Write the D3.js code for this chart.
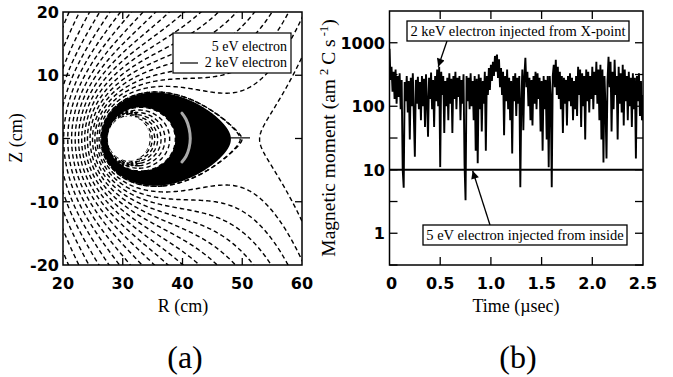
<!DOCTYPE html>
<html><head><meta charset="utf-8">
<script src="https://cdn.jsdelivr.net/npm/d3@7"></script>
<style>
body{margin:0;background:#fff}
.tick{font-family:'DejaVu Sans',sans-serif;font-size:16px;font-weight:bold;fill:#000}
.serif{font-family:'Liberation Serif','Times New Roman',serif;fill:#000}
</style></head><body>
<svg id="c" width="673" height="377" xmlns="http://www.w3.org/2000/svg"></svg>
<script>
// ---------------- DATA ----------------
// Panel (a): axes
const rTickVals = [20, 30, 40, 50, 60];
const zTickVals = [-20, -10, 0, 10, 20];
// ring conductor (R, Z centre, visible radius), cm
const coilR = [31.0];
const coilZ = [0.0];
const coilHoleRadius = [3.5];
// X-point position on the midplane, cm
const xPointR = [50.5];
// 2 keV orbit region: outer and inner edges on the midplane (cm)
const orbitOuterR = [48.0];
const orbitInnerR = [38.7];
// field-line spacing: midplane R positions of two neighbouring surfaces inside
const surfaceRefR = [35.0, 35.45];
// open field line outside the X-point (midplane crossing, cm)
const outerLineR = [52.8];
// 5 eV electron trajectory (grey arc)
const eV5R = [39.9, 40.6, 41.1, 41.3, 41.1, 40.6, 39.9];
const eV5Z = [4.0, 3.0, 1.6, 0.0, -1.5, -2.8, -3.7];
// 2 keV electron injection segment near X-point
const keV2R = [48.0, 51.3];
const keV2Z = [0.1, 0.1];
const legendA = ["5 eV electron", "2 keV electron"];

// Panel (b)
const tTickVals = [0, 0.5, 1.0, 1.5, 2.0, 2.5];
const tTickLabels = ["0", "0.5", "1.0", "1.5", "2.0", "2.5"];
const muTickVals = [1, 10, 100, 1000];
const muTickLabels = ["1", "10", "100", "1000"];
const muMinorVals = [0.316, 3.16, 31.6, 316];
const sampleStep = 0.01; // µs between samples of the 2 keV trace
const mu2keV = [
 800,260,420,170,350,130,380,110,300,140,
 330,90,260,10,5.2,240,120,300,80,250,
 30,280,100,330,70,16,260,110,290,90,
 240,60,300,100,270,47,320,120,33,280,
 130,340,90,260,47,300,120,380,100,420,
 11,350,150,300,38,250,100,280,60,330,
 110,270,38,300,130,350,90,280,140,300,
 60,260,110,320,12,3.3,300,120,280,90,
 330,100,250,60,300,20,270,12.7,320,90,
 280,40,250,110,350,20,300,150,400,180,
 450,250,500,300,620,350,650,280,550,200,
 400,150,350,35,300,120,380,90,280,60,
 250,18,300,120,330,70,280,110,300,5.3,
 120,380,42,300,580,200,350,100,280,60,
 260,50,300,110,350,90,330,130,280,40,
 250,20,300,90,260,30,300,11,300,150,
 5.3,300,450,200,540,150,420,130,350,90,
 300,38,280,110,260,50,300,120,330,100,
 280,60,250,90,300,70,420,150,380,47,
 330,100,300,30,380,120,350,80,300,130,
 420,90,350,150,500,110,380,60,450,30,
 380,13,300,100,15,250,600,200,500,40,
 350,90,540,150,300,30,420,110,330,80,
 450,50,380,120,300,60,350,100,280,47,
 330,90,280,15,300,120,330,70,250,60,
 150];
const t5eV = [0, 0.5, 1.0, 1.5, 2.0, 2.5];
const mu5eV = [10, 10, 10, 10, 10, 10];
const noteTop = "2 keV electron injected from X-point";
const noteBottom = "5 eV electron injected from inside";

// ---------------- DRAW ----------------
const svg = d3.select("#c");
const xA = d3.scaleLinear().domain([20, 60]).range([63, 302]);
const yA = d3.scaleLinear().domain([-20, 20]).range([265, 12]);
const xB = d3.scaleLinear().domain([0, 2.5]).range([389.5, 643]);
const yB = d3.scaleLog().domain([Math.pow(10, -0.5), Math.pow(10, 3.5)]).range([265, 11]);

const defs = svg.append("defs");
defs.append("clipPath").attr("id", "clipA").append("rect")
  .attr("x", 63).attr("y", 12).attr("width", 239).attr("height", 253);
defs.append("clipPath").attr("id", "clipOrbit").append("rect")
  .attr("x", 63).attr("y", 12).attr("width", xA(xPointR[0]) - 63).attr("height", 253);
defs.append("clipPath").attr("id", "clipRight").append("rect")
  .attr("x", xA(xPointR[0])).attr("y", 12).attr("width", 302 - xA(xPointR[0])).attr("height", 253);
defs.append("clipPath").attr("id", "clipB").append("rect")
  .attr("x", 389.5).attr("y", 11).attr("width", 253.5).attr("height", 254);
defs.append("marker").attr("id", "arr").attr("viewBox", "0 0 10 10")
  .attr("refX", 10).attr("refY", 5).attr("markerWidth", 10).attr("markerHeight", 8)
  .attr("markerUnits", "userSpaceOnUse").attr("orient", "auto")
  .append("path").attr("d", "M0,0 L10,5 L0,10 z").attr("fill", "#000");

// ---- flux function of ring current + uniform vertical field ----
function ellipKE(m) {
  m = Math.min(m, 1 - 1e-12);
  let a = 1, b = Math.sqrt(1 - m), sum = m / 2, p = 1;
  for (let n = 0; n < 40; n++) {
    const c = (a - b) / 2, an = (a + b) / 2;
    b = Math.sqrt(a * b); a = an;
    sum += p * c * c; p *= 2;
    if (Math.abs(c) < 1e-14) break;
  }
  const K = Math.PI / (2 * a);
  return [K, K * (1 - sum)];
}
function psiLoop(R, Z) {
  const a = coilR[0], dz = Z - coilZ[0];
  const m = 4 * a * R / ((R + a) * (R + a) + dz * dz);
  const k = Math.sqrt(m);
  const [K, E] = ellipKE(m);
  return Math.sqrt(a * R) / k * ((1 - m / 2) * K - E);
}
const hR = 1e-3;
const dPsiX = (psiLoop(xPointR[0] + hR, 0) - psiLoop(xPointR[0] - hR, 0)) / (2 * hR);
const cVert = -dPsiX / (2 * xPointR[0]);
const psi = (R, Z) => psiLoop(R, Z) + cVert * R * R;

const R0 = 19, Z0 = 21, dG = 0.2, nx = 211, ny = 211;
const vals = new Float64Array(nx * ny);
for (let j = 0; j < ny; j++) for (let i = 0; i < nx; i++)
  vals[j * nx + i] = psi(R0 + i * dG, Z0 - j * dG);
const proj = d3.geoTransform({ point: function (x, y) {
  this.stream.point(xA(R0 + x * dG), yA(Z0 - y * dG)); } });
const gp = d3.geoPath(proj);

const psiSep = psi(xPointR[0], 0);
const psiOut = psi(orbitOuterR[0], 0);
const psiIn = psi(orbitInnerR[0], 0);
const step = psi(surfaceRefR[0], 0) - psi(surfaceRefR[1], 0);
const levels = d3.range(-200, 300).map(k => psiIn + k * step);
const levelsOpen = levels.filter(v => v < psiSep);
const levelsClosed = levels.filter(v => v > psiSep);

const gA = svg.append("g").attr("clip-path", "url(#clipA)");
const gOrb = gA.append("g").attr("clip-path", "url(#clipOrbit)");
const cont = d3.contours().size([nx, ny]);
gOrb.append("path").attr("d", gp(cont.thresholds([psiOut])(vals)[0])).attr("fill", "#000");
gOrb.append("path").attr("d", gp(cont.thresholds([psiIn])(vals)[0])).attr("fill", "#fff");

const dashStyle = sel => sel.attr("fill", "none").attr("stroke", "#000")
  .attr("stroke-width", 1.4).attr("stroke-dasharray", "4.5,3");
gA.append("g").selectAll("path").data(d3.contours().size([nx, ny]).thresholds(levelsOpen)(vals))
  .join("path").attr("d", d => gp(d)).call(dashStyle);
gOrb.append("g").selectAll("path").data(d3.contours().size([nx, ny]).thresholds(levelsClosed)(vals))
  .join("path").attr("d", d => gp(d)).call(dashStyle);
// dashed surface hugging the orbit tip
gOrb.append("path").attr("d", gp(cont.thresholds([psi((orbitOuterR[0] + xPointR[0]) / 2 + 0.3, 0)])(vals)[0])).call(dashStyle);
// open line outside the X-point
gA.append("g").attr("clip-path", "url(#clipRight)").append("path")
  .attr("d", gp(cont.thresholds([psi(outerLineR[0], 0)])(vals)[0])).call(dashStyle);

// coil hole
const rxPix = xA(coilR[0] + coilHoleRadius[0]) - xA(coilR[0]);
const ryPix = yA(coilZ[0]) - yA(coilZ[0] + coilHoleRadius[0]);
gA.append("ellipse").attr("cx", xA(coilR[0])).attr("cy", yA(coilZ[0]))
  .attr("rx", rxPix).attr("ry", ryPix).attr("fill", "#fff");
// thick dashes round the hole (left side)
const arcR = coilHoleRadius[0] + 0.6;
const arcPts = d3.range(70, 291, 4).map(a => [coilR[0] + arcR * Math.cos(a * Math.PI / 180), coilZ[0] + arcR * Math.sin(a * Math.PI / 180)]);
gA.append("path").attr("d", d3.line().x(d => xA(d[0])).y(d => yA(d[1]))(arcPts))
  .attr("fill", "none").attr("stroke", "#000").attr("stroke-width", 4).attr("stroke-dasharray", "2.5,2");
// 5 eV grey arc
gA.append("path").attr("d", d3.line().curve(d3.curveCatmullRom).x((d, i) => xA(eV5R[i])).y((d, i) => yA(eV5Z[i]))(eV5R))
  .attr("fill", "none").attr("stroke", "#aaa").attr("stroke-width", 3).attr("stroke-linecap", "round");
// 2 keV injection segment
gA.append("path").attr("d", d3.line().x((d, i) => xA(keV2R[i])).y((d, i) => yA(keV2Z[i]))(keV2R))
  .attr("fill", "none").attr("stroke", "#000").attr("stroke-width", 1.2);

// legend (a)
svg.append("rect").attr("x", 173).attr("y", 33).attr("width", 118).attr("height", 40)
  .attr("fill", "#fff").attr("stroke", "#000").attr("stroke-width", 1.2);
svg.append("text").attr("class", "serif").attr("x", 287).attr("y", 51).attr("text-anchor", "end")
  .attr("font-size", 14).text(legendA[0]);
svg.append("text").attr("class", "serif").attr("x", 287).attr("y", 67).attr("text-anchor", "end")
  .attr("font-size", 14).text(legendA[1]);
svg.append("line").attr("x1", 180).attr("x2", 198).attr("y1", 63).attr("y2", 63).attr("stroke", "#000").attr("stroke-width", 1.2);

// frame + ticks (a)
svg.append("rect").attr("x", 63).attr("y", 12).attr("width", 239).attr("height", 253)
  .attr("fill", "none").attr("stroke", "#000").attr("stroke-width", 1.5);
const tl = 7;
rTickVals.slice(1, -1).forEach(v => {
  svg.append("line").attr("x1", xA(v)).attr("x2", xA(v)).attr("y1", 265).attr("y2", 265 - tl).attr("stroke", "#000").attr("stroke-width", 1.3);
  svg.append("line").attr("x1", xA(v)).attr("x2", xA(v)).attr("y1", 12).attr("y2", 12 + tl).attr("stroke", "#000").attr("stroke-width", 1.3);
});
zTickVals.slice(1, -1).forEach(v => {
  svg.append("line").attr("x1", 63).attr("x2", 63 + tl).attr("y1", yA(v)).attr("y2", yA(v)).attr("stroke", "#000").attr("stroke-width", 1.3);
  svg.append("line").attr("x1", 302).attr("x2", 302 - tl).attr("y1", yA(v)).attr("y2", yA(v)).attr("stroke", "#000").attr("stroke-width", 1.3);
});
rTickVals.forEach(v => svg.append("text").attr("class", "tick").attr("x", xA(v)).attr("y", 289)
  .attr("text-anchor", "middle").text(v));
zTickVals.forEach(v => svg.append("text").attr("class", "tick").attr("x", 59).attr("y", yA(v) + 6)
  .attr("text-anchor", "end").text(v));
svg.append("text").attr("class", "serif").attr("font-size", 18).attr("x", 183).attr("y", 312)
  .attr("text-anchor", "middle").text("R (cm)");
svg.append("text").attr("class", "serif").attr("font-size", 18).attr("transform", "translate(22,138) rotate(-90)")
  .attr("text-anchor", "middle").text("Z (cm)");
svg.append("text").attr("class", "serif").attr("font-size", 32).attr("x", 185).attr("y", 368)
  .attr("text-anchor", "middle").text("(a)");

// ---- panel (b) ----
const gB = svg.append("g").attr("clip-path", "url(#clipB)");
gB.append("path").attr("d", d3.line().x((d, i) => xB(i * sampleStep)).y(d => yB(d))(mu2keV))
  .attr("fill", "none").attr("stroke", "#000").attr("stroke-width", 1.9);
gB.append("path").attr("d", d3.line().x((d, i) => xB(t5eV[i])).y(d => yB(d))(mu5eV))
  .attr("fill", "none").attr("stroke", "#000").attr("stroke-width", 2);

svg.append("rect").attr("x", 389.5).attr("y", 11).attr("width", 253.5).attr("height", 254)
  .attr("fill", "none").attr("stroke", "#000").attr("stroke-width", 1.5);
tTickVals.slice(1, -1).forEach(v => {
  svg.append("line").attr("x1", xB(v)).attr("x2", xB(v)).attr("y1", 265).attr("y2", 257).attr("stroke", "#000").attr("stroke-width", 1.3);
  svg.append("line").attr("x1", xB(v)).attr("x2", xB(v)).attr("y1", 11).attr("y2", 19).attr("stroke", "#000").attr("stroke-width", 1.3);
});
muTickVals.concat(muMinorVals).forEach(v => {
  svg.append("line").attr("x1", 389.5).attr("x2", 397.5).attr("y1", yB(v)).attr("y2", yB(v)).attr("stroke", "#000").attr("stroke-width", 1.3);
  svg.append("line").attr("x1", 643).attr("x2", 635).attr("y1", yB(v)).attr("y2", yB(v)).attr("stroke", "#000").attr("stroke-width", 1.3);
});
tTickVals.forEach((v, i) => svg.append("text").attr("class", "tick").attr("x", xB(v) + (i === 0 ? 2 : 0)).attr("y", 289)
  .attr("text-anchor", "middle").text(tTickLabels[i]));
muTickVals.forEach((v, i) => svg.append("text").attr("class", "tick").attr("x", 385).attr("y", yB(v) + 6)
  .attr("text-anchor", "end").text(muTickLabels[i]));
svg.append("text").attr("class", "serif").attr("font-size", 18).attr("x", 516).attr("y", 312)
  .attr("text-anchor", "middle").text("Time (µsec)");
const yl = svg.append("text").attr("class", "serif").attr("font-size", 19.5)
  .attr("transform", "translate(335,138) rotate(-90)").attr("text-anchor", "middle");
yl.append("tspan").text("Magnetic moment (am");
yl.append("tspan").attr("font-size", 12.5).attr("dx", 4).attr("dy", -7).text("2");
yl.append("tspan").attr("dx", 4).attr("dy", 7).text("C s");
yl.append("tspan").attr("font-size", 12.5).attr("dx", 3).attr("dy", -7).text("-1");
yl.append("tspan").attr("dy", 7).text(")");
svg.append("text").attr("class", "serif").attr("font-size", 32).attr("x", 518).attr("y", 368)
  .attr("text-anchor", "middle").text("(b)");

// annotations
svg.append("line").attr("x1", 447).attr("y1", 41).attr("x2", xB(0.48)).attr("y2", yB(420))
  .attr("stroke", "#000").attr("stroke-width", 1.3).attr("marker-end", "url(#arr)");
svg.append("rect").attr("x", 407).attr("y", 21).attr("width", 222).attr("height", 20)
  .attr("fill", "#fff").attr("stroke", "#000").attr("stroke-width", 1.3);
svg.append("text").attr("class", "serif").attr("font-size", 14.5).attr("x", 518).attr("y", 36)
  .attr("text-anchor", "middle").text(noteTop);
svg.append("line").attr("x1", 490).attr("y1", 225).attr("x2", xB(0.82)).attr("y2", yB(10) + 1)
  .attr("stroke", "#000").attr("stroke-width", 1.3).attr("marker-end", "url(#arr)");
svg.append("rect").attr("x", 423).attr("y", 225).attr("width", 204).attr("height", 20)
  .attr("fill", "#fff").attr("stroke", "#000").attr("stroke-width", 1.3);
svg.append("text").attr("class", "serif").attr("font-size", 14.5).attr("x", 525).attr("y", 240)
  .attr("text-anchor", "middle").text(noteBottom);
</script></body></html>
